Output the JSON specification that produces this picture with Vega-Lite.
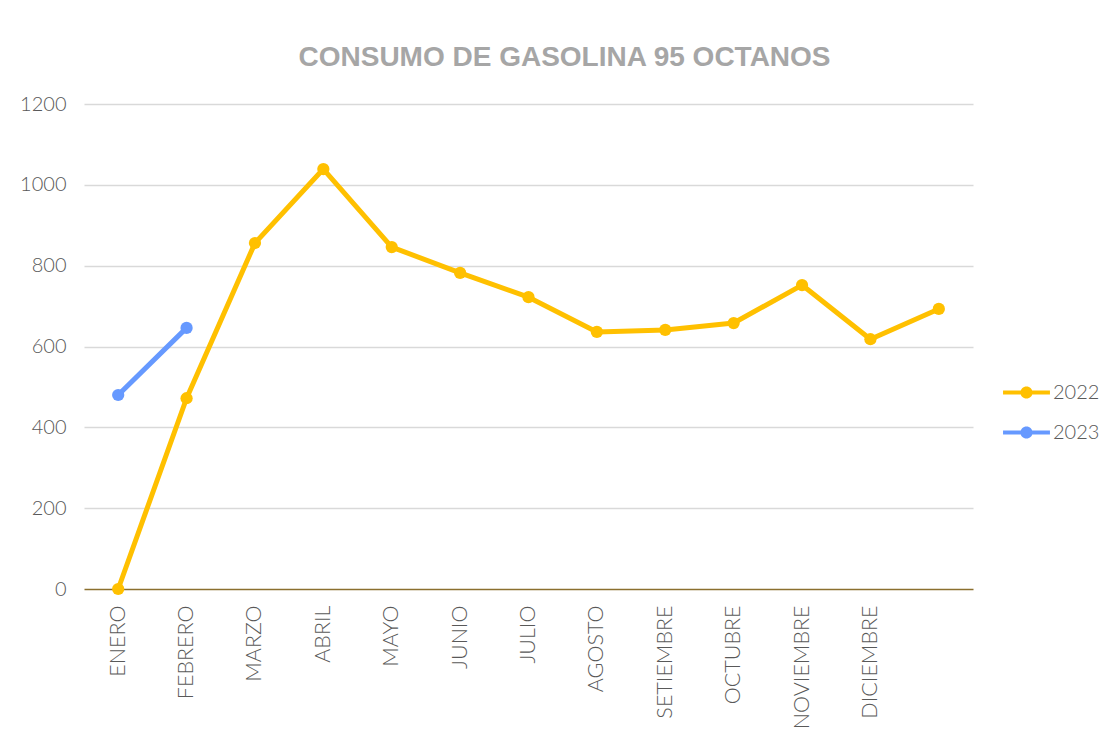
{
  "$schema": "https://vega.github.io/schema/vega-lite/v6.json",
  "width": 889,
  "height": 485,
  "autosize": {"type": "none"},
  "padding": {"left": 84, "top": 104, "right": 137, "bottom": 148},
  "background": "white",
  "title": {
    "text": "CONSUMO DE GASOLINA 95 OCTANOS",
    "font": "Liberation Sans",
    "fontSize": 28,
    "fontWeight": "bold",
    "color": "#A6A6A6",
    "anchor": "middle",
    "dx": 36,
    "dy": 37,
    "baseline": "alphabetic",
    "offset": 37
  },
  "data": {
    "values": [
      {"mes": "ENERO", "serie": "2022", "valor": 0},
      {"mes": "FEBRERO", "serie": "2022", "valor": 472},
      {"mes": "MARZO", "serie": "2022", "valor": 856},
      {"mes": "ABRIL", "serie": "2022", "valor": 1039},
      {"mes": "MAYO", "serie": "2022", "valor": 846},
      {"mes": "JUNIO", "serie": "2022", "valor": 782},
      {"mes": "JULIO", "serie": "2022", "valor": 722},
      {"mes": "AGOSTO", "serie": "2022", "valor": 636},
      {"mes": "SETIEMBRE", "serie": "2022", "valor": 641},
      {"mes": "OCTUBRE", "serie": "2022", "valor": 658},
      {"mes": "NOVIEMBRE", "serie": "2022", "valor": 752},
      {"mes": "DICIEMBRE", "serie": "2022", "valor": 618},
      {"mes": " ", "serie": "2022", "valor": 693},
      {"mes": "ENERO", "serie": "2023", "valor": 480},
      {"mes": "FEBRERO", "serie": "2023", "valor": 646}
    ]
  },
  "encoding": {
    "x": {
      "field": "mes",
      "type": "ordinal",
      "sort": ["ENERO", "FEBRERO", "MARZO", "ABRIL", "MAYO", "JUNIO", "JULIO", "AGOSTO", "SETIEMBRE", "OCTUBRE", "NOVIEMBRE", "DICIEMBRE", " "],
      "scale": {"type": "point", "padding": 0.5},
      "axis": {
        "title": null,
        "labelAngle": -90,
        "labelFontSize": 21.5,
        "labelFont": "Lato",
        "labelFontWeight": 300,
        "labelColor": "#595959",
        "labelPadding": 16,
        "ticks": false,
        "grid": false,
        "domainColor": "#8B6F2E",
        "domainWidth": 1.5
      }
    },
    "y": {
      "field": "valor",
      "type": "quantitative",
      "scale": {"domain": [0, 1200]},
      "axis": {
        "title": null,
        "values": [0, 200, 400, 600, 800, 1000, 1200],
        "format": "d",
        "labelFontSize": 20,
        "labelFont": "Lato",
        "labelFontWeight": 300,
        "labelColor": "#595959",
        "labelPadding": 18,
        "ticks": false,
        "domain": false,
        "gridColor": {"condition": {"test": "datum.value === 0", "value": "transparent"}, "value": "#D9D9D9"},
        "gridWidth": 1.5
      }
    },
    "color": {
      "field": "serie",
      "type": "nominal",
      "scale": {"domain": ["2022", "2023"], "range": ["#FFC000", "#6699FF"]},
      "legend": {
        "title": null,
        "orient": "none",
        "legendX": 919,
        "legendY": 265,
        "padding": 0,
        "rowPadding": 6,
        "symbolType": "M-1,-0.09 L1,-0.09 L1,0.09 L-1,0.09 Z M-0.26,0 A0.26,0.26 0 1 1 0.26,0 A0.26,0.26 0 1 1 -0.26,0 Z",
        "symbolSize": 2200,
        "symbolStrokeWidth": 0,
        "labelFont": "Lato",
        "labelFontSize": 20,
        "labelFontWeight": 300,
        "labelColor": "#595959",
        "labelOffset": 3,
        "encode": {
          "symbols": {
            "update": {
              "fill": {"scale": "color", "field": "value"},
              "stroke": {"value": "transparent"},
              "opacity": {"value": 1}
            }
          }
        }
      }
    }
  },
  "layer": [
    {
      "mark": {"type": "line", "strokeWidth": 5, "strokeCap": "round", "strokeJoin": "round"}
    },
    {
      "mark": {"type": "circle", "size": 150, "opacity": 1}
    }
  ],
  "config": {"view": {"stroke": null}}
}
